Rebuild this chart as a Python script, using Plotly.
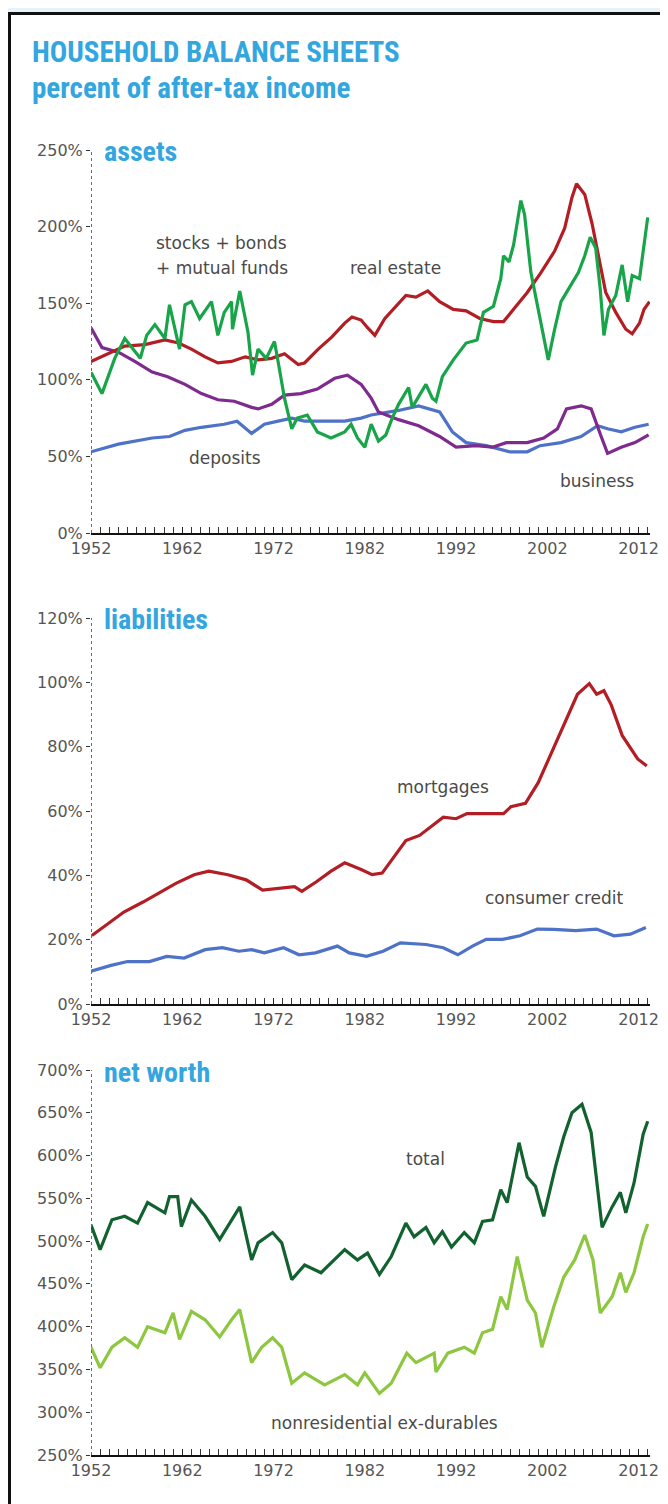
import plotly.graph_objects as go

# ---------------- data (percent of after-tax income) ----------------
stocks_years = [1952.0, 1953.2, 1954.6, 1955.7, 1957.4, 1958.1, 1959.0, 1960.1, 1960.6, 1961.7,
                1962.3, 1963.0, 1963.9, 1965.2, 1965.9, 1966.6, 1967.4, 1967.5, 1968.3, 1969.2,
                1969.7, 1970.3, 1971.2, 1972.1, 1972.5, 1973.2, 1974.0, 1974.6, 1975.7, 1976.8,
                1978.3, 1979.8, 1980.5, 1981.2, 1982.0, 1982.7, 1983.5, 1984.3, 1985.0, 1985.7,
                1986.8, 1987.2, 1987.9, 1988.7, 1989.4, 1989.8, 1990.5, 1991.7, 1993.1, 1994.3,
                1995.0, 1996.1, 1996.9, 1997.2, 1997.8, 1998.3, 1999.1, 1999.5, 2000.2, 2000.9,
                2001.3, 2002.1, 2002.8, 2003.5, 2004.3, 2005.4, 2006.1, 2006.7, 2007.3, 2007.8,
                2008.2, 2008.7, 2009.5, 2010.2, 2010.8, 2011.3, 2012.1, 2012.6, 2013.0]
stocks = [105, 91, 114, 127, 114, 129, 136, 127, 149, 120,
          149, 151, 140, 151, 129, 144, 151, 133, 158, 131,
          103, 120, 114, 125, 112, 88, 68, 75, 77, 66,
          62, 66, 71, 62, 56, 71, 60, 64, 75, 84,
          95, 82, 89, 97, 88, 86, 102, 113, 124, 126,
          144, 148, 166, 181, 177, 188, 217, 208, 170, 148,
          137, 113, 133, 151, 159, 170, 181, 193, 186, 159,
          129, 146, 155, 175, 151, 168, 166, 188, 206]

realestate_years = [1952.0, 1953.5, 1955.7, 1957.9, 1960.1, 1961.6, 1963.0, 1964.5, 1965.9, 1967.4,
                    1968.9, 1970.3, 1971.8, 1973.2, 1974.7, 1975.4, 1976.9, 1978.4, 1979.8, 1980.6,
                    1981.6, 1982.3, 1983.1, 1984.2, 1986.5, 1987.6, 1988.9, 1990.2, 1991.7, 1993.1,
                    1994.6, 1996.1, 1997.2, 1998.3, 1999.8, 2001.3, 2002.8, 2003.9, 2004.7, 2005.2,
                    2006.1, 2006.9, 2007.6, 2008.4, 2009.5, 2010.6, 2011.3, 2012.1, 2012.6, 2013.2]
realestate = [112, 116, 122, 123, 126, 124, 120, 115, 111, 112,
              115, 113, 114, 117, 110, 111, 120, 128, 137, 141,
              139, 134, 129, 140, 155, 154, 158, 151, 146, 145,
              140, 138, 138, 146, 157, 170, 184, 199, 219, 228,
              221, 202, 180, 157, 144, 133, 130, 137, 146, 151]

business_years = [1952.0, 1953.2, 1955.0, 1956.8, 1958.7, 1960.4, 1962.3, 1964.1, 1965.9, 1967.7,
                  1969.6, 1970.3, 1971.8, 1973.2, 1975.0, 1976.8, 1978.7, 1980.1, 1981.6, 1982.7,
                  1983.5, 1985.7, 1987.9, 1990.2, 1992.0, 1994.2, 1996.0, 1997.5, 1999.8, 2001.6,
                  2003.1, 2004.1, 2005.7, 2006.8, 2007.9, 2008.6, 2010.1, 2011.6, 2013.1]
business = [134, 121, 118, 112, 105, 102, 97, 91, 87, 86,
            82, 81, 84, 90, 91, 94, 101, 103, 97, 88,
            79, 74, 70, 63, 56, 57, 56, 59, 59, 62,
            68, 81, 83, 81, 63, 52, 56, 59, 64]

deposits_years = [1952.0, 1955.0, 1958.7, 1960.6, 1962.3, 1964.1, 1966.6, 1968.0, 1969.6, 1971.0,
                  1972.5, 1974.0, 1975.4, 1977.6, 1979.8, 1981.6, 1982.7, 1985.7, 1987.9, 1990.2,
                  1991.6, 1993.1, 1995.3, 1997.9, 1999.8, 2001.2, 2003.5, 2005.7, 2007.5, 2008.6,
                  2010.1, 2011.6, 2013.1]
deposits = [53, 58, 62, 63, 67, 69, 71, 73, 65, 71,
            73, 75, 73, 73, 73, 75, 77, 80, 83, 79,
            66, 59, 57, 53, 53, 57, 59, 63, 70, 68,
            66, 69, 71]

mortgage_years = [1952.1, 1955.6, 1957.7, 1959.7, 1961.3, 1963.3, 1964.9, 1967.0, 1969.0, 1970.8,
                  1972.7, 1974.3, 1975.1, 1976.7, 1978.3, 1979.8, 1981.6, 1982.8, 1983.9, 1985.1,
                  1986.5, 1988.0, 1989.2, 1990.6, 1992.0, 1993.2, 1995.2, 1997.2, 1998.0, 1999.6,
                  2001.0, 2002.5, 2004.1, 2005.3, 2006.6, 2007.4, 2008.2, 2009.0, 2010.2, 2011.9,
                  2012.9]
mortgages = [21.3, 28.6, 31.7, 34.9, 37.5, 40.2, 41.3, 40.2, 38.6, 35.4,
             35.9, 36.5, 35.0, 38.0, 41.3, 43.9, 41.8, 40.2, 40.7, 45.4,
             50.8, 52.4, 55.0, 58.1, 57.6, 59.2, 59.2, 59.2, 61.3, 62.4,
             68.8, 78.3, 88.9, 96.3, 99.6, 96.3, 97.4, 93.0, 83.5, 76.2,
             74.0]

credit_years = [1952.0, 1954.2, 1956.0, 1958.4, 1960.3, 1962.2, 1964.5, 1966.4, 1968.2, 1969.6,
                1971.0, 1973.1, 1974.8, 1976.6, 1979.0, 1980.3, 1982.2, 1984.0, 1985.9, 1988.7,
                1990.6, 1992.2, 1993.8, 1995.3, 1997.1, 1999.0, 2000.9, 2002.7, 2005.1, 2007.4,
                2009.3, 2011.1, 2012.8]
consumer_credit = [10.2, 12.0, 13.2, 13.2, 14.8, 14.3, 16.9, 17.5, 16.4, 16.9,
                   15.9, 17.5, 15.3, 15.9, 18.0, 15.9, 14.8, 16.4, 19.0, 18.5,
                   17.5, 15.3, 18.0, 20.1, 20.1, 21.2, 23.3, 23.2, 22.8, 23.3,
                   21.2, 21.7, 23.8]

total_years = [1952.0, 1953.0, 1954.3, 1955.7, 1957.1, 1958.2, 1960.1, 1960.6, 1961.5, 1961.9,
               1963.0, 1964.5, 1966.1, 1967.4, 1968.3, 1969.6, 1970.3, 1971.9, 1972.9, 1974.0,
               1975.4, 1977.2, 1979.8, 1981.2, 1982.3, 1983.6, 1984.9, 1986.5, 1987.4, 1988.7,
               1989.6, 1990.5, 1991.5, 1992.9, 1994.0, 1994.9, 1996.0, 1996.9, 1997.6, 1998.9,
               1999.8, 2000.7, 2001.6, 2002.9, 2003.8, 2004.7, 2005.8, 2006.8, 2007.7, 2008.0,
               2009.1, 2010.0, 2010.6, 2011.5, 2012.5, 2013.0]
total = [519, 490, 525, 529, 521, 545, 533, 552, 552, 517,
         548, 529, 502, 525, 540, 478, 498, 510, 498, 455,
         472, 463, 490, 478, 486, 461, 482, 521, 505, 516,
         498, 511, 493, 510, 498, 523, 525, 560, 545, 615,
         575, 564, 529, 587, 622, 650, 660, 627, 540, 516,
         540, 557, 533, 568, 625, 640]

nonres_years = [1952.0, 1953.0, 1954.3, 1955.7, 1957.1, 1958.2, 1960.1, 1961.0, 1961.7, 1963.0,
                1964.5, 1966.1, 1967.4, 1968.3, 1969.6, 1970.7, 1971.9, 1972.9, 1974.0, 1975.4,
                1977.6, 1979.8, 1981.2, 1982.0, 1983.6, 1984.9, 1986.6, 1987.6, 1989.6, 1989.8,
                1991.1, 1992.9, 1994.0, 1994.9, 1996.0, 1996.9, 1997.6, 1998.7, 1999.8, 2000.7,
                2001.4, 2002.7, 2003.8, 2005.0, 2006.1, 2007.0, 2007.8, 2009.1, 2010.0, 2010.6,
                2011.5, 2012.5, 2013.0]
nonres = [376, 352, 376, 387, 376, 400, 393, 416, 385, 418,
          408, 388, 408, 420, 358, 376, 387, 376, 334, 346,
          332, 344, 332, 346, 322, 334, 369, 358, 369, 347,
          369, 376, 369, 393, 397, 435, 420, 482, 431, 416,
          376, 423, 458, 478, 507, 478, 416, 435, 463, 440,
          463, 505, 520]

year_ticks = [1952, 1962, 1972, 1982, 1992, 2002, 2012]
assets_ticks = [0, 50, 100, 150, 200, 250]
liab_ticks = [0, 20, 40, 60, 80, 100, 120]
nw_ticks = [250, 300, 350, 400, 450, 500, 550, 600, 650, 700]

# ---------------- styling ----------------
OFF = 8                      # page body margin
W, H = 668 - OFF, 1504 - OFF
RED = "#b31d24"
GREEN = "#18a54a"
PURPLE = "#7e2a8e"
BLUE = "#4d72c8"
DKGREEN = "#12622f"
LTGREEN = "#8dc63f"
TITLE_BLUE = "#33a6e0"
TXT = "#555555"
FONT = "DejaVu Sans, Verdana, sans-serif"
TFONT = "Liberation Sans Narrow, Roboto Condensed, Roboto, Lato, sans-serif"


def px_x(p):
    return (p - OFF) / W


def px_y(p):
    return 1 - (p - OFF) / H


x_dom = [px_x(91), px_x(650)]
panels = [  # (top px, bottom px) in page pixels
    (150, 533),
    (618, 1004),
    (1070, 1455),
]

fig = go.Figure()


def add_line(x, y, color, ax):
    fig.add_trace(go.Scatter(x=x, y=y, mode="lines", line=dict(color=color, width=3.2),
                             xaxis="x" + ax, yaxis="y" + ax, hoverinfo="skip", showlegend=False))


add_line(deposits_years, deposits, BLUE, "")
add_line(business_years, business, PURPLE, "")
add_line(realestate_years, realestate, RED, "")
add_line(stocks_years, stocks, GREEN, "")
add_line(credit_years, consumer_credit, BLUE, "2")
add_line(mortgage_years, mortgages, RED, "2")
add_line(nonres_years, nonres, LTGREEN, "3")
add_line(total_years, total, DKGREEN, "3")

xaxis_common = dict(
    range=[1952, 2013.25], tickmode="array", tickvals=year_ticks,
    ticktext=[str(v) for v in year_ticks],
    ticks="inside", ticklen=6, tickwidth=1.2, tickcolor="#222",
    minor=dict(dtick=1, tick0=1952, ticks="inside", ticklen=6, tickcolor="#333", tickwidth=1),
    showline=True, linecolor="#111", linewidth=2.2, showgrid=False, zeroline=False,
    automargin=False, tickfont=dict(family=FONT, size=16, color=TXT), fixedrange=True,
)
yaxis_common = dict(
    ticks="outside", ticklen=4, tickcolor="#333", tickmode="array",
    showline=False, showgrid=False, zeroline=False, automargin=False,
    tickfont=dict(family=FONT, size=16, color=TXT), fixedrange=True,
)

layout_axes = {}
ranges = [[0, 250], [0, 120], [250, 700]]
tickss = [assets_ticks, liab_ticks, nw_ticks]
for i, (top, bot) in enumerate(panels):
    sfx = "" if i == 0 else str(i + 1)
    ydom = [px_y(bot), px_y(top)]
    layout_axes["xaxis" + sfx] = dict(xaxis_common, domain=x_dom, anchor="y" + sfx)
    layout_axes["yaxis" + sfx] = dict(yaxis_common, domain=ydom, anchor="x" + sfx,
                                      range=ranges[i], tickvals=tickss[i],
                                      ticktext=[f"{v}%" for v in tickss[i]])

fig.update_layout(
    template="none",
    width=W, height=H, margin=dict(l=0, r=0, t=0, b=0, pad=0, autoexpand=False),
    paper_bgcolor="#e6f3fb", plot_bgcolor="rgba(0,0,0,0)",
    showlegend=False,
    **layout_axes,
)

shapes = [
    dict(type="rect", xref="paper", yref="paper", x0=px_x(9.5), x1=1.2, y0=-0.2, y1=px_y(13.5),
         line=dict(color="#111", width=3), fillcolor="white", layer="below"),
]
for i in range(3):
    sfx = "" if i == 0 else str(i + 1)
    shapes.append(dict(type="line", xref="x" + sfx, yref="y" + sfx + " domain",
                       x0=1952, x1=1952, y0=0, y1=1,
                       line=dict(color="#6a6a8a", width=2, dash="dot"), layer="above"))
fig.update_layout(shapes=shapes)

ann = []
ann.append(dict(text="<b>HOUSEHOLD BALANCE SHEETS</b>", xref="paper", yref="paper",
                x=px_x(30), y=px_y(52), xanchor="left", yanchor="middle", showarrow=False,
                font=dict(family=TFONT, size=29, color=TITLE_BLUE)))
ann.append(dict(text="<b>percent of after-tax income</b>", xref="paper", yref="paper",
                x=px_x(30), y=px_y(88), xanchor="left", yanchor="middle", showarrow=False,
                font=dict(family=TFONT, size=29, color=TITLE_BLUE)))
for name, ypx in [("assets", 151), ("liabilities", 619), ("net worth", 1072)]:
    ann.append(dict(text="<b>" + name + "</b>", xref="paper", yref="paper",
                    x=px_x(102), y=px_y(ypx), xanchor="left", yanchor="middle", showarrow=False,
                    font=dict(family=TFONT, size=28, color=TITLE_BLUE)))

labels = [
    ("stocks + bonds", 1966.3, 189, ""),
    ("+ mutual funds", 1966.3, 173, ""),
    ("real estate", 1985.4, 173, ""),
    ("deposits", 1966.7, 49, ""),
    ("business", 2007.4, 34, ""),
    ("mortgages", 1990.6, 67.5, "2"),
    ("consumer credit", 2002.8, 33, "2"),
    ("total", 1988.6, 596, "3"),
    ("nonresidential ex-durables", 1984.2, 287, "3"),
]
for txt, xv, yv, sfx in labels:
    ann.append(dict(text=txt, xref="x" + sfx, yref="y" + sfx, x=xv, y=yv,
                    xanchor="center", yanchor="middle", showarrow=False,
                    font=dict(family=FONT, size=17, color="#4a4a4a")))
fig.update_layout(annotations=ann)

fig.write_html("out.html")
